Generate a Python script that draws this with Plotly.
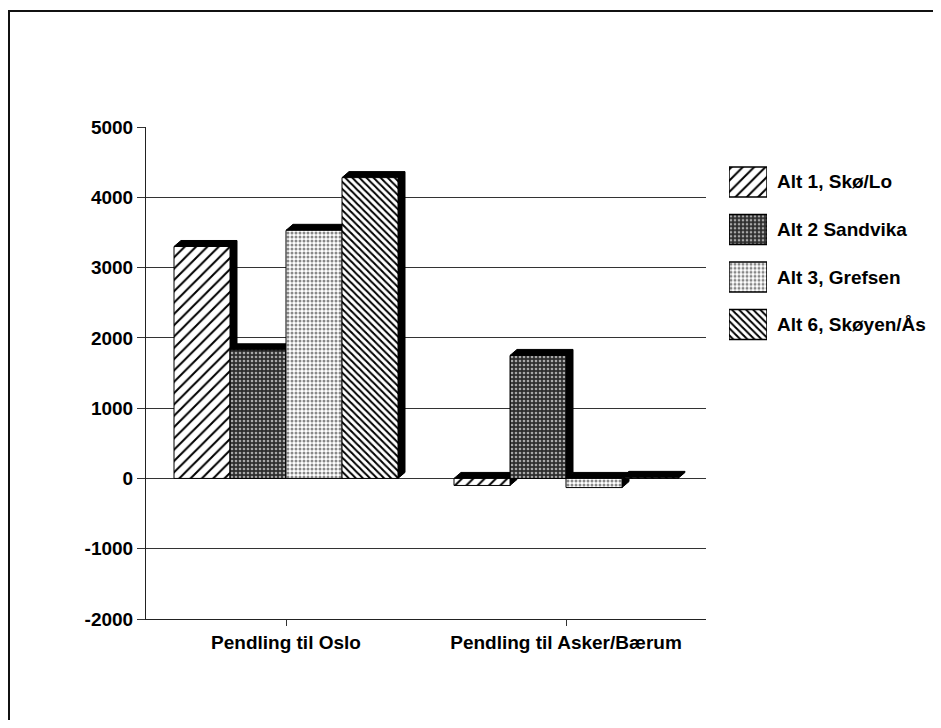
import plotly.graph_objects as go

categories = ["Pendling til Oslo", "Pendling til Asker/Bærum"]
series_names = ["Alt 1, Skø/Lo", "Alt 2 Sandvika", "Alt 3, Grefsen", "Alt 6, Skøyen/Ås"]
alt1 = [3300, -100]
alt2 = [1830, 1750]
alt3 = [3530, -130]
alt6 = [4280, 15]
series_values = [alt1, alt2, alt3, alt6]
y_ticks = [-2000, -1000, 0, 1000, 2000, 3000, 4000, 5000]
y_tick_labels = ["-2000", "-1000", "0", "1000", "2000", "3000", "4000", "5000"]

# styles
pat_shapes = ["/", ".", ".", "\\"]
pat_bg = ["#ffffff", "#2e2e2e", "#ffffff", "#ffffff"]
pat_fg = ["#000000", "#a8a8a8", "#888888", "#000000"]
pat_size = [8, 4, 4, 5]
pat_sol = [0.25, 0.35, 0.45, 0.4]

# page has an 8px body margin; work in screen pixels and convert
OFF = 8
W, H = 925, 712
PL, PT, PB = 146 - OFF, 127 - OFF, 619 - OFF   # plot area in figure px
MR = 10
ML, MT, MB = PL, PT, H - PB
PW = W - ML - MR
PH = H - MT - MB
PLOT_RIGHT = 706 - OFF
main_dom = (PLOT_RIGHT - ML) / PW


def px_x(sx):
    return (sx - OFF - ML) / PW


def px_y(sy):
    return (PB - (sy - OFF)) / PH


FONT = "Liberation Sans, Arial, sans-serif"
TXT = dict(family=FONT, size=19, color="black", weight="bold")

fig = go.Figure()

xs = list(range(len(categories)))
for i, (name, vals) in enumerate(zip(series_names, series_values)):
    fig.add_trace(go.Bar(
        x=xs, y=vals, name=name, showlegend=False,
        marker=dict(color=pat_bg[i], line=dict(color="black", width=1),
                    pattern=dict(shape=pat_shapes[i], fgcolor=pat_fg[i], bgcolor=pat_bg[i],
                                 size=pat_size[i], solidity=pat_sol[i], fillmode="replace")),
        xaxis="x", yaxis="y",
    ))

# 3D-like shadows computed from the data
yrange = [-2000, 5000]
cat_px = (PLOT_RIGHT - ML) / len(categories)
dx = 7 / cat_px
dy = 6 * (yrange[1] - yrange[0]) / PH
ngroups = len(series_names)
slot = 0.8 / ngroups
shapes = []
for i, vals in enumerate(series_values):
    for c, v in enumerate(vals):
        x0 = c - 0.4 + slot * i
        x1 = x0 + slot
        T = max(v, 0)
        B = min(v, 0)
        path = (f"M {x0},{T} L {x0+dx},{T+dy} L {x1+dx},{T+dy} L {x1+dx},{B+dy} "
                f"L {x1},{B} L {x1},{T} Z")
        shapes.append(dict(type="path", path=path, xref="x", yref="y",
                           fillcolor="black", line=dict(color="black", width=1), layer="between"))

# frame around the whole chart (right/bottom edges fall outside the picture)
shapes.append(dict(type="rect", xref="paper", yref="paper",
                   x0=px_x(9), x1=px_x(990), y0=px_y(790), y1=px_y(11),
                   line=dict(color="#111", width=2), fillcolor="rgba(0,0,0,0)", layer="above"))

# custom legend: one small patterned bar per series
for i, name in enumerate(series_names):
    fig.add_trace(go.Bar(
        x=[1], y=[name], orientation="h", width=0.63, offsetgroup="legend",
        showlegend=False, hoverinfo="skip",
        marker=dict(color=pat_bg[i], line=dict(color="black", width=1.5),
                    pattern=dict(shape=pat_shapes[i], fgcolor=pat_fg[i], bgcolor=pat_bg[i],
                                 size=pat_size[i], solidity=pat_sol[i], fillmode="replace")),
        xaxis="x2", yaxis="y2",
    ))

annotations = []
for name in series_names:
    annotations.append(dict(x=px_x(775), xref="paper", y=name, yref="y2", text=name,
                            showarrow=False, xanchor="left", yanchor="middle",
                            font=TXT))

fig.update_layout(
    width=W, height=H,
    margin=dict(l=ML, r=MR, t=MT, b=MB),
    paper_bgcolor="white", plot_bgcolor="white",
    barmode="group", bargap=0.2, bargroupgap=0,
    showlegend=False,
    font=TXT,
    xaxis=dict(domain=[0, main_dom], range=[-0.5, len(categories) - 0.5],
               tickmode="array", tickvals=xs, ticktext=categories,
               ticks="outside", ticklen=6, tickcolor="#333",
               showline=True, linecolor="#222", linewidth=1, showgrid=False,
               zeroline=False, tickfont=TXT),
    yaxis=dict(domain=[0, 1], range=yrange, tickmode="array", tickvals=y_ticks,
               ticktext=y_tick_labels,
               ticks="outside", ticklen=8, tickcolor="#333",
               showline=True, linecolor="#222", linewidth=1,
               showgrid=True, gridcolor="#333", gridwidth=1,
               zeroline=False, tickfont=TXT),
    xaxis2=dict(domain=[px_x(729), px_x(767)], range=[0, 1], visible=False, anchor="y2"),
    yaxis2=dict(domain=[px_y(348.25), px_y(158.25)], range=[len(series_names) - 0.5, -0.5],
                type="category", categoryorder="array", categoryarray=series_names,
                visible=False, anchor="x2"),
    shapes=shapes,
    annotations=annotations,
)

fig.write_html("out.html")
